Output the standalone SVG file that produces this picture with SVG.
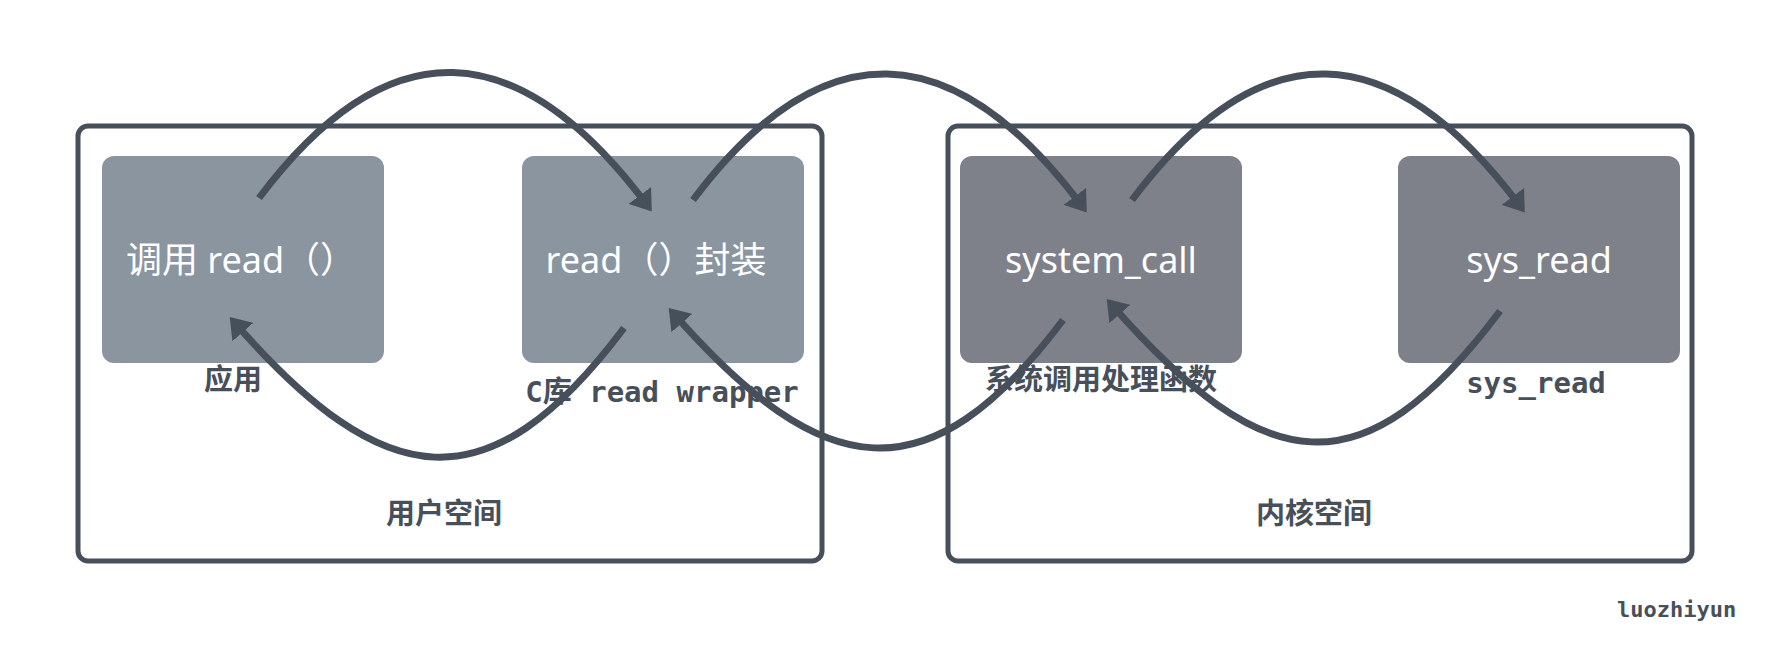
<svg xmlns="http://www.w3.org/2000/svg" width="1773" height="660" viewBox="0 0 1773 660">
  <style>
    .space { fill: #ffffff; stroke: #474f5a; stroke-width: 5; }
    .user { fill: #8a959f; }
    .kernel { fill: #7e818a; }
    .ntext { font-family: "Noto Sans", "Noto Sans CJK SC", sans-serif; font-size: 36px; fill: #ffffff; text-anchor: middle; }
    .cjk { font-family: "Noto Sans CJK SC", "Noto Sans", sans-serif; font-size: 29px; font-weight: bold; fill: #474f5a; text-anchor: middle; }
    .mono { font-family: "DejaVu Sans Mono", "Noto Sans CJK SC", monospace; font-size: 29px; font-weight: bold; fill: #474f5a; text-anchor: middle; }
    .wm { font-family: "DejaVu Sans Mono", monospace; font-size: 22px; font-weight: bold; fill: #474f5a; }
    .arc { fill: none; stroke: #474f5a; stroke-width: 7; marker-end: url(#ah); }
  </style>
  <defs>
    <marker id="ah" markerUnits="userSpaceOnUse" viewBox="0 0 20 28" markerWidth="20" markerHeight="28" refX="12" refY="14" orient="auto">
      <path d="M0,0 L20,14 L0,28 Z" fill="#474f5a"/>
    </marker>
  </defs>

  <rect width="1773" height="660" fill="#ffffff"/>

  <g id="user-space">
    <rect class="space" x="78" y="126" width="744" height="435" rx="10"/>
    <text class="cjk" x="444" y="524">用户空间</text>
  </g>
  <g id="kernel-space">
    <rect class="space" x="948" y="126" width="744" height="435" rx="10"/>
    <text class="cjk" x="1314" y="524">内核空间</text>
  </g>

  <g id="app">
    <rect class="user" x="102" y="156" width="282" height="207" rx="12"/>
    <text class="ntext" x="241" y="273">调用 read（）</text>
    <text class="cjk" x="233" y="390">应用</text>
  </g>
  <g id="wrapper">
    <rect class="user" x="522" y="156" width="282" height="207" rx="12"/>
    <text class="ntext" x="656" y="273">read（）封装</text>
    <text class="mono" x="662" y="402">C库 read wrapper</text>
  </g>
  <g id="system-call">
    <rect class="kernel" x="960" y="156" width="282" height="207" rx="12"/>
    <text class="ntext" x="1101" y="273">system_call</text>
    <text class="cjk" x="1101" y="390">系统调用处理函数</text>
  </g>
  <g id="sys-read">
    <rect class="kernel" x="1398" y="156" width="282" height="207" rx="12"/>
    <text class="ntext" x="1539" y="273">sys_read</text>
    <text class="mono" x="1536" y="393">sys_read</text>
  </g>

  <g id="connectors">
    <path class="arc" d="M259,198 C388,26 518,33 647,205"/>
    <path class="arc" d="M693,200 C822,28 953,34 1082,206"/>
    <path class="arc" d="M1132,200 C1261,28 1391,34 1520,206"/>
    <path class="arc" d="M624,328 C488,509 384,493 235,323"/>
    <path class="arc" d="M1063,320 C928,500 823,483 674,314"/>
    <path class="arc" d="M1500,311 C1362,495 1264,478 1112,305"/>
  </g>

  <text class="wm" x="1617" y="617">luozhiyun</text>
</svg>
